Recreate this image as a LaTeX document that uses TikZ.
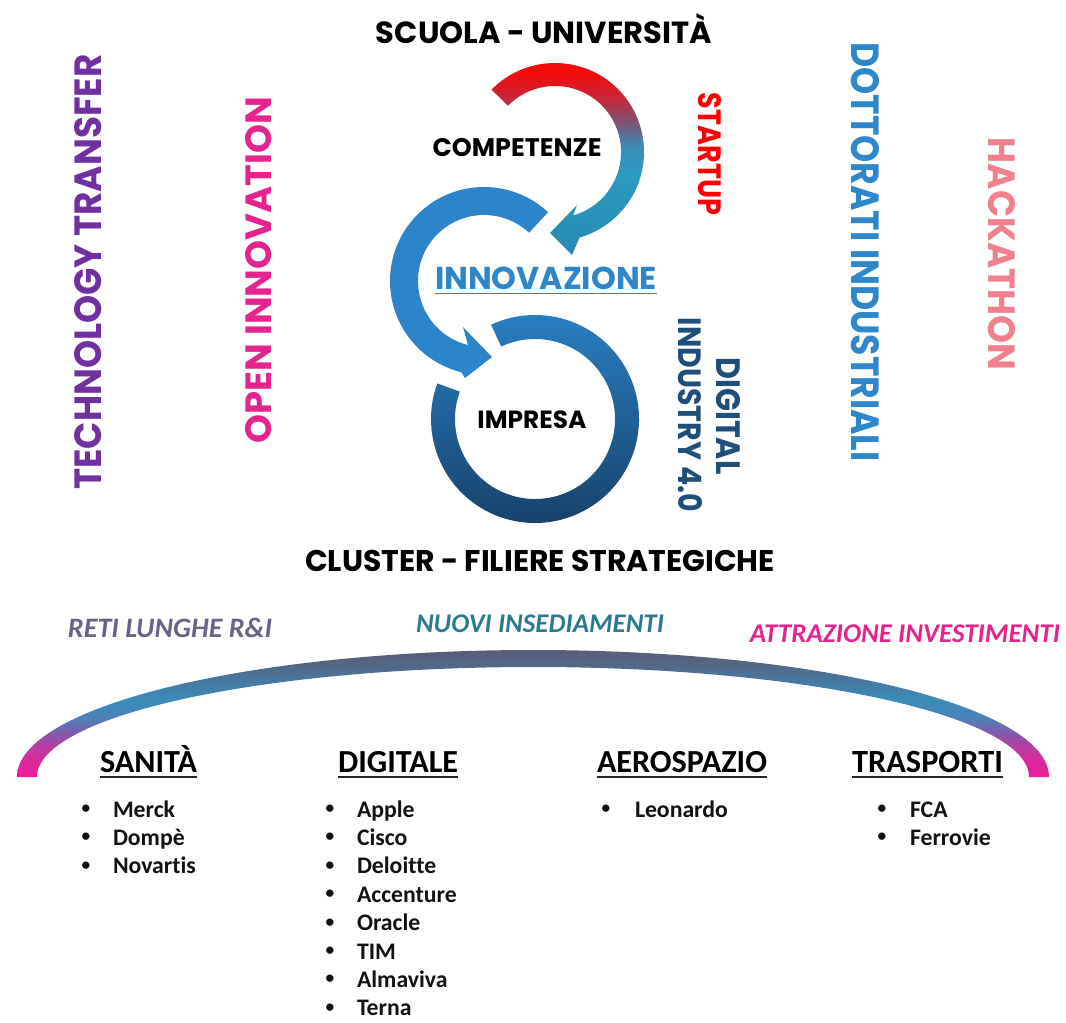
\documentclass[tikz,border=0pt]{standalone}
\usepackage{graphicx}
\usepackage{fontspec}
\setmainfont{Carlito}[Ligatures={NoCommon,NoRequired,NoContextual}]
\newfontfamily\gothic{Poppins}
\usetikzlibrary{calc}
\newdimen\pxu \pxu=0.75pt
\newcommand\fitw[2]{\resizebox{#1\pxu}{!}{#2}}
\newcommand\fitwh[3]{\resizebox{#1\pxu}{#2\pxu}{#3}}
\definecolor{cTT}{HTML}{7030A0}
\definecolor{cOI}{HTML}{E3248F}
\definecolor{cSU}{HTML}{FF0000}
\definecolor{cDI}{HTML}{2F87CB}
\definecolor{cHK}{HTML}{F1808F}
\definecolor{cDF}{HTML}{1F4E79}
\definecolor{cRL}{HTML}{67648A}
\definecolor{cNI}{HTML}{2A7B92}
\definecolor{cAI}{HTML}{E5238F}
\definecolor{cInno}{HTML}{2E86C9}
\definecolor{cMid}{HTML}{2C85CA}
\definecolor{ringTop}{HTML}{2A82C6}
\definecolor{ringMid}{HTML}{2262A0}
\definecolor{ringBot}{HTML}{163E66}
\definecolor{redA}{HTML}{F20C0C}
\definecolor{crim}{HTML}{C8263A}
\definecolor{purp}{HTML}{7D5375}
\definecolor{tealC}{HTML}{3B8DB5}
\definecolor{tealB}{HTML}{2B9AC2}
\definecolor{tealA}{HTML}{2789B0}
\definecolor{bA}{HTML}{E91E99}
\definecolor{bB}{HTML}{DA2A9C}
\definecolor{bC}{HTML}{B040A2}
\definecolor{bD}{HTML}{7F5CAE}
\definecolor{bE}{HTML}{4D80B8}
\definecolor{bF}{HTML}{3A8CB9}
\definecolor{bG}{HTML}{4778A0}
\definecolor{bH}{HTML}{56637F}
\definecolor{bI}{HTML}{5A5D7A}
\pgfdeclareverticalshading{topgrad}{100bp}{color(0bp)=(tealA); color(25bp)=(tealA); color(45bp)=(tealB); color(52bp)=(tealC); color(58bp)=(purp); color(64bp)=(crim); color(70bp)=(redA); color(75bp)=(redA); color(100bp)=(redA)}
\pgfdeclareverticalshading{bandgrad}{100bp}{color(0bp)=(bA); color(25bp)=(bA); color(31.7bp)=(bB); color(37.6bp)=(bC); color(42.7bp)=(bD); color(48.2bp)=(bE); color(55.3bp)=(bF); color(63.2bp)=(bG); color(71bp)=(bH); color(75bp)=(bI); color(100bp)=(bI)}
\begin{document}
\begin{tikzpicture}[x=0.75pt,y=-0.75pt,
  lbl/.style={inner sep=0pt,outer sep=0pt},
  geo/.style={lbl,font=\gothic\bfseries},
  ital/.style={lbl,font=\bfseries\itshape},
  head/.style={lbl,font=\bfseries,text=black},
  item/.style={lbl,anchor=base west,font=\fontsize{17.8pt}{21pt}\selectfont\bfseries,text=black!93},
  bul/.style={lbl,anchor=base,yshift=2.6pt,font=\fontsize{13pt}{14pt}\selectfont\bfseries,text=black!93},
  uline/.style={line width=1.5pt,draw=black!85}]
\fill[white] (0,0) rectangle (1066,1023);
\useasboundingbox (0,0) rectangle (1066,1023);
% centres of the arrows
\coordinate (C1) at (555,152);
\coordinate (C2) at (484,281);
\coordinate (C3) at (535,419);
% bottom ring
\shade[top color=ringTop,middle color=ringMid,bottom color=ringBot]
  ($(C3)+(-115:104)$) arc[start angle=-115,end angle=200,radius=104]
  -- ($(C3)+(200:80)$) arc[start angle=200,end angle=-115,radius=80] -- cycle;
% middle arrow
\fill[cMid]
  ($(C2)+(-47:94)$) arc[start angle=-47,end angle=-256,radius=94]
  -- (465,378) -- (492,357) -- (463,327)
  -- ($(C2)+(-256:66)$) arc[start angle=-256,end angle=-47,radius=66] -- cycle;
% top arrow
\shade[shading=topgrad]
  ($(C1)+(-135.5:89)$) arc[start angle=-135.5,end angle=74,radius=89]
  -- (572,255) -- (550,233) -- (577,205)
  -- ($(C1)+(74:66)$) arc[start angle=74,end angle=-135.5,radius=66] -- cycle;
% bottom band
\shade[shading=bandgrad]
  (17,777) arc[start angle=180,end angle=360,x radius=516,y radius=127]
  -- (1029,777) arc[start angle=0,end angle=-180,x radius=496,y radius=110] -- cycle;
% titles
\node[geo,anchor=base] (scuola) at (544,44) {\fitw{336}{SCUOLA - UNIVERSITÀ}};
\node[geo] (cluster) at (540,561) {\fitw{470}{CLUSTER - FILIERE STRATEGICHE}};
\node[geo] (comp) at (517,148) {\fitw{169}{COMPETENZE}};
\node[geo,text=cInno] (inno) at (546,278) {\fitw{222}{INNOVAZIONE}};
\draw[cInno,line width=1.2pt] ([yshift=-3pt]inno.south west) -- ([yshift=-3pt]inno.south east);
\node[geo] (impresa) at (532,420) {\fitw{109}{IMPRESA}};
% vertical labels
\node[geo,text=cTT,rotate=90] (tt) at (88,272) {\fitwh{435}{27}{TECHNOLOGY TRANSFER}};
\node[geo,text=cOI,rotate=90] (oi) at (259,270) {\fitwh{346}{26}{OPEN INNOVATION}};
\node[geo,text=cSU,rotate=-90] (su) at (710,154) {\fitwh{122}{23}{STARTUP}};
\node[geo,text=cDI,rotate=-90] (di) at (865,252) {\fitwh{419}{28}{DOTTORATI INDUSTRIALI}};
\node[geo,text=cHK,rotate=-90] (hk) at (1002,254) {\fitwh{232}{27}{HACKATHON}};
\node[geo,text=cDF,rotate=-90] (dig) at (728,416) {\fitwh{117}{24}{DIGITAL}};
\node[geo,text=cDF,rotate=-90] (ind) at (690,415) {\fitwh{194}{24}{INDUSTRY 4.0}};
% italic labels
\node[ital,text=cRL] (reti) at (170,628) {\fitw{204}{RETI LUNGHE R\&I}};
\node[ital,text=cNI] (nuovi) at (540,624) {\fitw{248}{NUOVI INSEDIAMENTI}};
\node[ital,text=cAI] (attr) at (905,634) {\fitw{310}{ATTRAZIONE INVESTIMENTI}};
% headings
\node[head,anchor=base] (hs) at (148.5,772) {\fitw{97}{SANITÀ}};
\node[head,anchor=base] (hd) at (398,772) {\fitw{120}{DIGITALE}};
\node[head,anchor=base] (ha) at (682,772) {\fitw{170}{AEROSPAZIO}};
\node[head,anchor=base] (ht) at (927.5,772) {\fitw{151}{TRASPORTI}};
\foreach \h in {hs,hd,ha,ht}
  \draw[uline] ([yshift=-4pt]\h.base west) -- ([yshift=-4pt]\h.base east);
% lists
\foreach \t [count=\i from 0] in {Merck,Dompè,Novartis}{
  \node[bul] (sb\i) at (86,{817+28.4*\i}) {•};
  \node[item] (si\i) at (113,{817+28.4*\i}) {\t};}
\foreach \t [count=\i from 0] in {Apple,Cisco,Deloitte,Accenture,Oracle,TIM,Almaviva,Terna}{
  \node[bul] (db\i) at (330,{817+28.4*\i}) {•};
  \node[item] (di\i) at (357,{817+28.4*\i}) {\t};}
\node[bul] (ab0) at (606,817) {•};
\node[item] (ai0) at (635,817) {Leonardo};
\foreach \t [count=\i from 0] in {FCA,Ferrovie}{
  \node[bul] (tb\i) at (882,{817+28.4*\i}) {•};
  \node[item] (ti\i) at (910,{817+28.4*\i}) {\t};}
\end{tikzpicture}
\end{document}
